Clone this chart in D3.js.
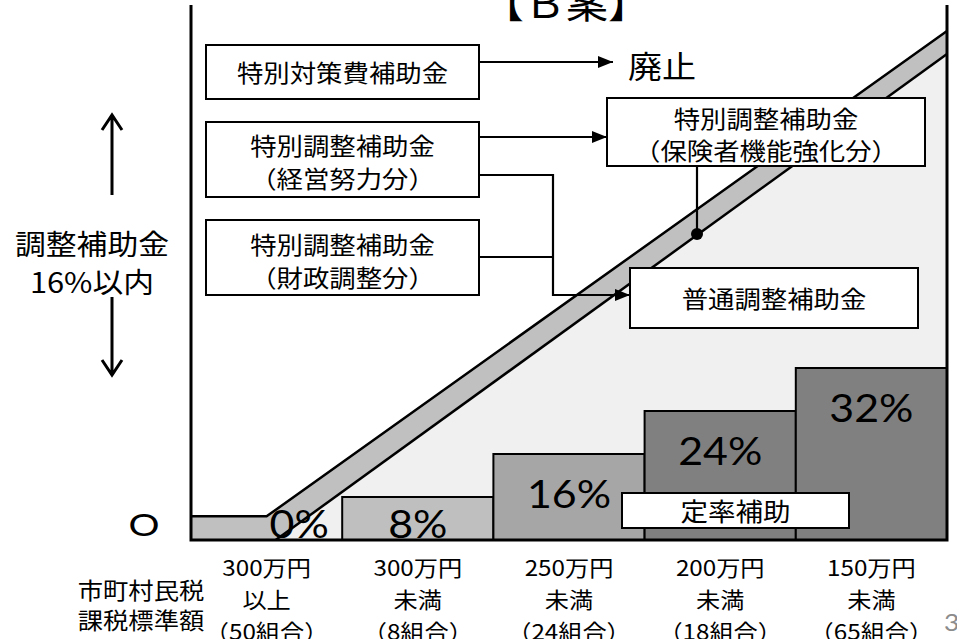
<!DOCTYPE html>
<html>
<head>
<meta charset="utf-8">
<script src="https://cdn.jsdelivr.net/npm/d3@7"></script>
<style>
  html, body { margin: 0; padding: 0; background: #fff; }
  svg { display: block; }
</style>
</head>
<body>
<svg id="chart" width="957" height="639"></svg>
<script>
// ---- data ----
const categories   = ["300万円以上", "300万円未満", "250万円未満", "200万円未満", "150万円未満"];
const amountLabels = ["300万円", "300万円", "250万円", "200万円", "150万円"];
const rangeLabels  = ["以上", "未満", "未満", "未満", "未満"];
const unionLabels  = ["（50組合）", "（8組合）", "（24組合）", "（18組合）", "（65組合）"];
const rates        = [0, 8, 16, 24, 32];            // 定率補助 (%)
const barFills     = ["#bfbfbf", "#bfbfbf", "#a6a6a6", "#808080", "#808080"];

// 調整補助金 band: [category position, percent]
const bandUpper = [[0, 4.4], [0.5, 4.4], [5, 94.7]];
const bandLower = [[0.56, 0], [5, 90.4]];

const titleText   = "【Ｂ案】";
const abolishText = "廃止";
const sideLabel   = ["調整補助金", "16%以内"];
const axisTitle   = ["市町村民税", "課税標準額"];
const boxSpecial  = ["特別対策費補助金"];
const boxEffort   = ["特別調整補助金", "（経営努力分）"];
const boxFinance  = ["特別調整補助金", "（財政調整分）"];
const boxInsurer  = ["特別調整補助金", "（保険者機能強化分）"];
const boxNormal   = ["普通調整補助金"];
const boxFixed    = ["定率補助"];

// ---- setup ----
const JP = "'Noto Sans CJK JP', 'Noto Sans', sans-serif";
const LAT = "Lato, 'Noto Sans', sans-serif";
const SX = 1.1;   // text is drawn slightly wide
const svg = d3.select("#chart");

const left = 191, right = 947, base = 540;
const xBand = d3.scaleBand().domain(categories).range([left, right]).padding(0);
const xPos = d3.scaleLinear().domain([0, categories.length]).range([left, right]);
const y = d3.scaleLinear().domain([0, 32]).range([base, 368]);

function label(parent, x, yy, str, size, opts = {}) {
  return parent.append("text")
    .attr("transform", `translate(${x},${yy}) scale(${opts.sx || SX},1)`)
    .attr("text-anchor", opts.anchor || "middle")
    .attr("dominant-baseline", opts.baseline || "central")
    .attr("font-family", opts.family || JP)
    .attr("font-size", size)
    .attr("fill", opts.fill || "#000")
    .text(str);
}

const defs = svg.append("defs");
defs.append("marker")
  .attr("id", "tri")
  .attr("markerUnits", "userSpaceOnUse")
  .attr("markerWidth", 15).attr("markerHeight", 12)
  .attr("refX", 15).attr("refY", 6)
  .attr("orient", "auto")
  .append("path").attr("d", "M0,0 L15,6 L0,12 Z").attr("fill", "#000");

// ---- background region under the band ----
const pt = d => [xPos(d[0]), y(d[1])];
const lowerPts = bandLower.map(pt);
svg.append("path")
  .attr("d", d3.line()([lowerPts[0], lowerPts[1], [right, base]]) + "Z")
  .attr("fill", "#f0f0f0");

// ---- band ----
const upperPts = bandUpper.map(pt);
const bandPoly = [[left, base], ...upperPts, ...lowerPts.slice().reverse()];
svg.append("path")
  .attr("d", d3.line()(bandPoly) + "Z")
  .attr("fill", "#c0c0c0");
svg.append("path")
  .attr("d", d3.line()([[left, upperPts[0][1]], ...upperPts.slice(1)]))
  .attr("fill", "none").attr("stroke", "#000").attr("stroke-width", 2.5);
svg.append("path")
  .attr("d", d3.line()(lowerPts))
  .attr("fill", "none").attr("stroke", "#000").attr("stroke-width", 2.5);

// ---- bars ----
const barData = categories.map((c, i) => ({ c, v: rates[i], fill: barFills[i] }));
svg.append("g").selectAll("rect")
  .data(barData.filter(d => d.v > 0))
  .join("rect")
  .attr("x", d => xBand(d.c))
  .attr("y", d => y(d.v))
  .attr("width", xBand.bandwidth())
  .attr("height", d => base - y(d.v))
  .attr("fill", d => d.fill)
  .attr("stroke", "#000").attr("stroke-width", 2);

// ---- frame ----
svg.append("path")
  .attr("d", `M${left},5 V${base} H${right} V5`)
  .attr("fill", "none").attr("stroke", "#000").attr("stroke-width", 3);

// ---- rate labels ----
barData.forEach(d => {
  const cx = xBand(d.c) + xBand.bandwidth() / 2;
  const by = Math.min(y(d.v) + 54, base - 2);
  label(svg, d.v === 0 ? cx + 3 : cx, by, d.v + "%", 39,
        { family: LAT, baseline: "alphabetic", anchor: d.v === 0 ? "start" : "middle" });
});

// ---- connector lines ----
const conn = (pts, arrow) => svg.append("path")
  .attr("d", d3.line()(pts))
  .attr("fill", "none").attr("stroke", "#000").attr("stroke-width", 2.2)
  .attr("marker-end", arrow ? "url(#tri)" : null);

conn([[479, 62], [613, 62]], true);
conn([[479, 137], [607, 137]], true);
conn([[479, 175], [553, 175], [553, 295], [630, 295]], true);
conn([[479, 257], [553, 257]], false);
conn([[697, 166], [697, 234]], false);
svg.append("circle").attr("cx", 697).attr("cy", 234).attr("r", 6).attr("fill", "#000");

// ---- boxes ----
function box(x0, y0, x1, y1, lines, size, lineYs) {
  svg.append("rect")
    .attr("x", x0).attr("y", y0).attr("width", x1 - x0).attr("height", y1 - y0)
    .attr("fill", "#fff").attr("stroke", "#000").attr("stroke-width", 2);
  lines.forEach((t, i) => label(svg, (x0 + x1) / 2, lineYs[i], t, size));
}
box(206, 45, 479, 99, boxSpecial, 24, [72]);
box(206, 122, 479, 197, boxEffort, 24, [145, 178]);
box(206, 220, 479, 295, boxFinance, 24, [244, 277]);
box(607, 98, 925, 166, boxInsurer, 24, [118, 150]);
box(630, 268, 918, 328, boxNormal, 24, [298]);
box(622, 493, 849, 528, boxFixed, 25, [511]);

// ---- texts ----
label(svg, 566, 18, titleText, 40, { baseline: "alphabetic", sx: 1.05 });
label(svg, 662, 64, abolishText, 31);

// side label with vertical arrows
label(svg, 92, 243, sideLabel[0], 28);
label(svg, 92, 281, sideLabel[1], 28);
const ax = 112;
svg.append("path")
  .attr("d", `M${ax},195 V116 M${ax - 10},130 L${ax},115 L${ax + 10},130`)
  .attr("fill", "none").attr("stroke", "#000").attr("stroke-width", 3);
svg.append("path")
  .attr("d", `M${ax},297 V374 M${ax - 10},360 L${ax},375 L${ax + 10},360`)
  .attr("fill", "none").attr("stroke", "#000").attr("stroke-width", 3);

// zero marker on the left
label(svg, 144, 536, "O", 31, { family: LAT, sx: 1.25, baseline: "alphabetic" });

// axis title
label(svg, 141, 589, axisTitle[0], 23);
label(svg, 141, 619, axisTitle[1], 23);

// category labels
categories.forEach((c, i) => {
  const cx = xBand(c) + xBand.bandwidth() / 2;
  label(svg, cx, 566, amountLabels[i], 22);
  label(svg, cx, 598, rangeLabels[i], 22);
  label(svg, cx, 630, unionLabels[i], 22);
});

// page number
label(svg, 944, 631, "3", 24, { family: LAT, anchor: "start", baseline: "alphabetic", fill: "#8c8c8c" });
</script>
</body>
</html>
